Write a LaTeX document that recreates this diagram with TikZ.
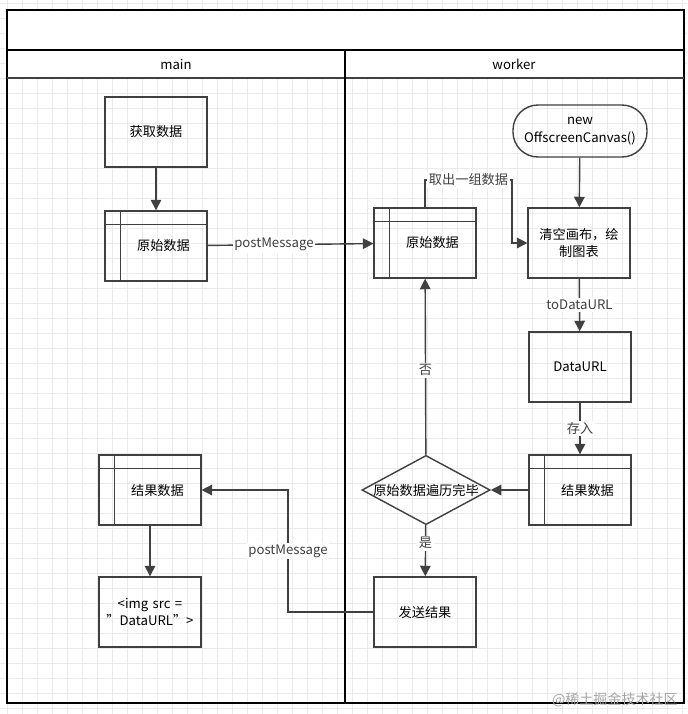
\documentclass[tikz,border=0pt]{standalone}
\usepackage{fontspec}
\setmainfont{Noto Sans CJK SC}
\usetikzlibrary{shapes.geometric,arrows.meta}
\tikzset{
  box/.style={draw=black!75, thick, minimum width=2cm, minimum height=1.4cm, align=center, text width=1.8cm, font=\fontsize{7.5}{10}\selectfont},
  store/.style={box, append after command={
     \pgfextra{\draw[black!75, thick] ([xshift=0.32cm]\tikzlastnode.north west) -- ([xshift=0.32cm]\tikzlastnode.south west);
               \draw[black!75, thick] ([yshift=-0.28cm]\tikzlastnode.north west) -- ([yshift=-0.28cm]\tikzlastnode.north east);}}},
  flow/.style={-{Triangle[length=6pt,width=6pt]}, thick, black!75},
  lbl/.style={fill=white, inner sep=1pt, font=\fontsize{7.5}{10}\selectfont}
}
\begin{document}
\begin{tikzpicture}[x=0.02cm, y=-0.02cm]
\useasboundingbox (0,0) rectangle (687,714);
\fill[white] (0,0) rectangle (687,714);
% grid
\foreach \i in {0,...,46} \draw[black!8] (\i*15-8,0) -- (\i*15-8,714);
\foreach \j in {0,...,48} \draw[black!8] (0,\j*15+3) -- (687,\j*15+3);
% pool
\fill[white] (7,10) rectangle (684,78);
\draw[very thick] (7,10) rectangle (684,703);
\draw[thick] (7,50) -- (684,50);
\draw[thick, black!75] (7,78) -- (684,78);
\draw[thick] (345,50) -- (345,703);
\node[font=\fontsize{7.5}{10}\selectfont] (lmain) at (176,64) {main};
\node[font=\fontsize{7.5}{10}\selectfont] (lwork) at (514,64) {worker};

% main lane
\node[box] (fetch) at (156,132) {获取数据};
\node[store] (raw1) at (156,246) {\hspace*{0.3cm}原始数据};
\node[store] (res1) at (150,490) {\hspace*{0.3cm}结果数据};
\node[box] (img) at (150,612) {<img src =\\"DataURL">};

% worker lane
\node[draw=black!75, thick, rounded corners=0.5cm, minimum width=2.68cm, minimum height=1.04cm, align=center, font=\fontsize{7.5}{10}\selectfont] (canvas) at (580,131) {new\\OffscreenCanvas()};
\node[store] (raw2) at (425,243) {\hspace*{0.3cm}原始数据};
\node[box] (draw) at (579,243) {清空画布，绘\\制图表};
\node[box] (url) at (580,367) {DataURL};
\node[store] (res2) at (580,490) {\hspace*{0.3cm}结果数据};
\node[diamond, draw=black!75, thick, aspect=1.85, minimum width=2.56cm, minimum height=1.38cm, inner sep=0pt, font=\fontsize{7.5}{10}\selectfont] (done) at (426,490) {原始数据遍历完毕};
\node[box] (send) at (425,612) {发送结果};

% connectors
\draw[flow] (fetch) -- (raw1);
\draw[flow] (raw1) -- node[lbl, pos=0.4] {postMessage} (raw2);
\draw[flow] (raw2.north) |- (512,180) node[lbl, pos=0.75] {取出一组数据} |- (draw.west);
\draw[flow] (canvas) -- (draw);
\draw[flow] (draw) -- node[lbl] {toDataURL} (url);
\draw[flow] (url) -- node[lbl] {存入} (res2);
\draw[flow] (res2) -- (done);
\draw[flow] (done) -- node[lbl, pos=0.48] {否} (raw2);
\draw[flow] (done) -- node[lbl, pos=0.35] {是} (send);
\draw[flow] (send.west) -| (288,490) node[lbl, pos=0.75] {postMessage} -- (res1.east);
\draw[flow] (res1) -- (img);

\node[text=black!35, font=\fontsize{8}{10}\selectfont, anchor=east] (mark) at (684,700) {@稀土掘金技术社区};
\end{tikzpicture}
\end{document}
